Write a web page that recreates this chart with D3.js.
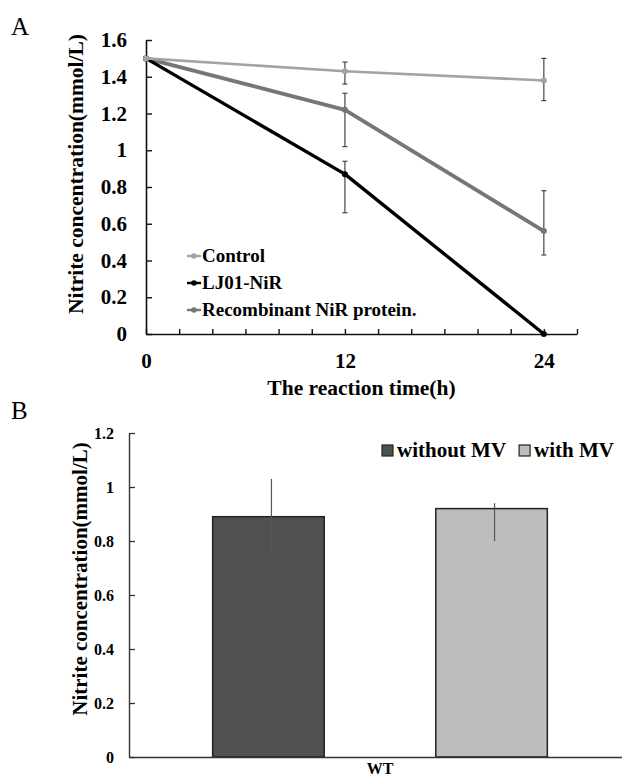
<!DOCTYPE html>
<html>
<head>
<meta charset="utf-8">
<script src="https://cdn.jsdelivr.net/npm/d3@7"></script>
<style>
  body { margin: 0; background: #fff; }
  svg text { font-family: "Liberation Serif", Tinos, "Times New Roman", Times, "DejaVu Serif", serif !important; }
  .bold { font-weight: bold; }
</style>
</head>
<body>
<div id="chart"></div>
<script>
// ---- data, panel A (line chart)
var hours = [0, 12, 24];
var hourLabels = ["0", "12", "24"];
var seriesNames = ["Control", "LJ01-NiR", "Recombinant NiR protein."];
var controlVals = [1.5, 1.43, 1.38];
var controlErrUp = [0, 0.05, 0.12];
var controlErrDown = [0, 0.07, 0.11];
var lj01Vals = [1.5, 0.87, 0];
var lj01ErrUp = [0, 0.07, 0];
var lj01ErrDown = [0, 0.21, 0];
var recombVals = [1.5, 1.22, 0.56];
var recombErrUp = [0, 0.09, 0.22];
var recombErrDown = [0, 0.2, 0.13];
var yTicksA = [0, 0.2, 0.4, 0.6, 0.8, 1, 1.2, 1.4, 1.6];

// ---- data, panel B (bar chart)
var groups = ["WT"];
var barSeries = ["without MV", "with MV"];
var barVals = [0.89, 0.92];
var barErrUp = [0.14, 0.02];
var barErrDown = [0.15, 0.12];
var yTicksB = [0, 0.2, 0.4, 0.6, 0.8, 1, 1.2];

var width = 622;
var height = 779;
var serif = "'Liberation Serif', Tinos, 'Times New Roman', Times, 'DejaVu Serif', serif";

var svg = d3.select("#chart")
  .append("svg")
  .attr("width", width)
  .attr("height", height)
  .attr("font-family", serif);

svg.append("rect").attr("width", width).attr("height", height).attr("fill", "#fff");

// panel letters
svg.append("text").attr("x", 11).attr("y", 35).attr("font-size", 25).text("A");
svg.append("text").attr("x", 11).attr("y", 419).attr("font-size", 25).text("B");

// ================= Panel A =================
var xA = d3.scaleLinear().domain([0, 26]).range([146, 577]);
var yA = d3.scaleLinear().domain([0, 1.6]).range([334, 40]);

var xAxisA = d3.axisBottom(xA)
  .tickValues(d3.range(0, 27, 2))
  .tickSize(-5)
  .tickSizeOuter(0)
  .tickPadding(19)
  .tickFormat(function(d) {
    var i = hours.indexOf(d);
    return i >= 0 ? hourLabels[i] : "";
  });

var yAxisA = d3.axisLeft(yA)
  .tickValues(yTicksA)
  .tickSize(-6)
  .tickSizeOuter(0)
  .tickPadding(19)
  .tickFormat(d3.format("~g"));

var gxA = svg.append("g")
  .attr("transform", "translate(0," + yA(0) + ")")
  .call(xAxisA);
var gyA = svg.append("g")
  .attr("transform", "translate(" + xA(0) + ",0)")
  .call(yAxisA);

[gxA, gyA].forEach(function(g) {
  g.attr("font-family", serif);
  g.select(".domain").attr("stroke", "#111").attr("stroke-width", 1.6);
  g.selectAll(".tick line").attr("stroke", "#111").attr("stroke-width", 1.4);
  g.selectAll(".tick text")
    .attr("font-weight", "bold")
    .attr("font-size", 21)
    .attr("fill", "#000");
});

svg.append("text")
  .attr("class", "bold")
  .attr("x", (xA.range()[0] + xA.range()[1]) / 2)
  .attr("y", 395)
  .attr("text-anchor", "middle")
  .attr("font-size", 21.5)
  .text("The reaction time(h)");

svg.append("text")
  .attr("class", "bold")
  .attr("transform", "translate(83,174)rotate(-90)")
  .attr("text-anchor", "middle")
  .attr("font-size", 21.5)
  .text("Nitrite concentration(mmol/L)");

var seriesA = [
  { name: seriesNames[0], vals: controlVals, up: controlErrUp, down: controlErrDown, color: "#a3a3a3", w: 2.6 },
  { name: seriesNames[1], vals: lj01Vals, up: lj01ErrUp, down: lj01ErrDown, color: "#000000", w: 3.4 },
  { name: seriesNames[2], vals: recombVals, up: recombErrUp, down: recombErrDown, color: "#767676", w: 3.8 }
];

var line = d3.line()
  .x(function(d) { return xA(d.h); })
  .y(function(d) { return yA(d.v); });

// draw order: recombinant and black under the light control line
[seriesA[2], seriesA[1], seriesA[0]].forEach(function(s) {
  var pts = hours.map(function(h, i) {
    return { h: h, v: s.vals[i], up: s.up[i], down: s.down[i] };
  });

  // error bars
  var eb = svg.append("g").attr("stroke", "#444").attr("stroke-width", 1.2);
  pts.forEach(function(p) {
    if (p.up === 0 && p.down === 0) return;
    var cx = xA(p.h);
    eb.append("line").attr("x1", cx).attr("x2", cx)
      .attr("y1", yA(p.v + p.up)).attr("y2", yA(p.v - p.down));
    eb.append("line").attr("x1", cx - 2.5).attr("x2", cx + 2.5)
      .attr("y1", yA(p.v + p.up)).attr("y2", yA(p.v + p.up));
    eb.append("line").attr("x1", cx - 2.5).attr("x2", cx + 2.5)
      .attr("y1", yA(p.v - p.down)).attr("y2", yA(p.v - p.down));
  });

  svg.append("path")
    .datum(pts)
    .attr("d", line)
    .attr("fill", "none")
    .attr("stroke", s.color)
    .attr("stroke-width", s.w)
    .attr("stroke-linejoin", "round");

  svg.selectAll(null)
    .data(pts)
    .enter()
    .append("circle")
    .attr("cx", function(d) { return xA(d.h); })
    .attr("cy", function(d) { return yA(d.v); })
    .attr("r", 3)
    .attr("fill", s.color);
});

// legend A
var legA = svg.append("g").attr("transform", "translate(187,262)");
seriesA.forEach(function(s, i) {
  var gy = i * 27;
  legA.append("line")
    .attr("x1", 0).attr("x2", 14)
    .attr("y1", gy - 6).attr("y2", gy - 6)
    .attr("stroke", s.color).attr("stroke-width", 2.4);
  legA.append("circle")
    .attr("cx", 7).attr("cy", gy - 6).attr("r", 2.8)
    .attr("fill", s.color);
  legA.append("text")
    .attr("class", "bold")
    .attr("x", 15).attr("y", gy)
    .attr("font-size", 19)
    .text(s.name);
});

// ================= Panel B =================
var yB = d3.scaleLinear().domain([0, 1.2]).range([757, 433]);
var x0 = d3.scaleBand().domain(groups).range([129, 631]).paddingInner(0).paddingOuter(0.25);
var x1 = d3.scaleBand().domain(barSeries).range([0, x0.bandwidth()]).paddingInner(0.5).paddingOuter(0);
var barColors = d3.scaleOrdinal().domain(barSeries).range(["#505050", "#bdbdbd"]);

var yAxisB = d3.axisLeft(yB)
  .tickValues(yTicksB)
  .tickSize(-6)
  .tickSizeOuter(0)
  .tickPadding(15)
  .tickFormat(d3.format("~g"));

var gyB = svg.append("g")
  .attr("transform", "translate(129,0)")
  .call(yAxisB);

var xAxisB = d3.axisBottom(d3.scaleBand().domain(groups).range([129, 631]))
  .tickSize(0)
  .tickSizeOuter(0)
  .tickPadding(6);

var barData = barSeries.map(function(s, i) {
  return { g: groups[0], s: s, v: barVals[i], up: barErrUp[i], down: barErrDown[i] };
});

svg.selectAll(".bar")
  .data(barData)
  .enter()
  .append("rect")
  .attr("class", "bar")
  .attr("x", function(d) { return x0(d.g) + x1(d.s); })
  .attr("y", function(d) { return yB(d.v); })
  .attr("width", x1.bandwidth())
  .attr("height", function(d) { return yB(0) - yB(d.v); })
  .attr("fill", function(d) { return barColors(d.s); })
  .attr("stroke", "#222")
  .attr("stroke-width", 1.5);

svg.selectAll(".err")
  .data(barData)
  .enter()
  .append("line")
  .attr("class", "err")
  .attr("x1", function(d) { return x0(d.g) + x1(d.s) + x1.bandwidth() / 2 + 3; })
  .attr("x2", function(d) { return x0(d.g) + x1(d.s) + x1.bandwidth() / 2 + 3; })
  .attr("y1", function(d) { return yB(d.v + d.up); })
  .attr("y2", function(d) { return yB(d.v - d.down); })
  .attr("stroke", "#555")
  .attr("stroke-width", 1.2);

var gxB = svg.append("g")
  .attr("transform", "translate(0," + yB(0) + ")")
  .call(xAxisB);

[gxB, gyB].forEach(function(g) {
  g.attr("font-family", serif);
  g.select(".domain").attr("stroke", "#333").attr("stroke-width", 1.4);
  g.selectAll(".tick line").attr("stroke", "#333").attr("stroke-width", 1.3);
  g.selectAll(".tick text")
    .attr("font-weight", "bold")
    .attr("fill", "#000");
});
gyB.selectAll(".tick text").attr("font-size", 16);
gxB.selectAll(".tick text").attr("font-size", 16);

svg.append("text")
  .attr("class", "bold")
  .attr("transform", "translate(87,579)rotate(-90)")
  .attr("text-anchor", "middle")
  .attr("font-size", 21)
  .text("Nitrite concentration(mmol/L)");

// legend B
var legB = svg.append("g").attr("transform", "translate(382,457)");
var legX = 0;
barSeries.forEach(function(s, i) {
  legB.append("rect")
    .attr("x", legX).attr("y", -12)
    .attr("width", 11).attr("height", 11)
    .attr("fill", barColors(s))
    .attr("stroke", "#222").attr("stroke-width", 1.2);
  var t = legB.append("text")
    .attr("class", "bold")
    .attr("x", legX + 15).attr("y", 0)
    .attr("font-size", 21)
    .text(s);
  legX += 15 + t.node().getComputedTextLength() + 13;
});
</script>
</body>
</html>
